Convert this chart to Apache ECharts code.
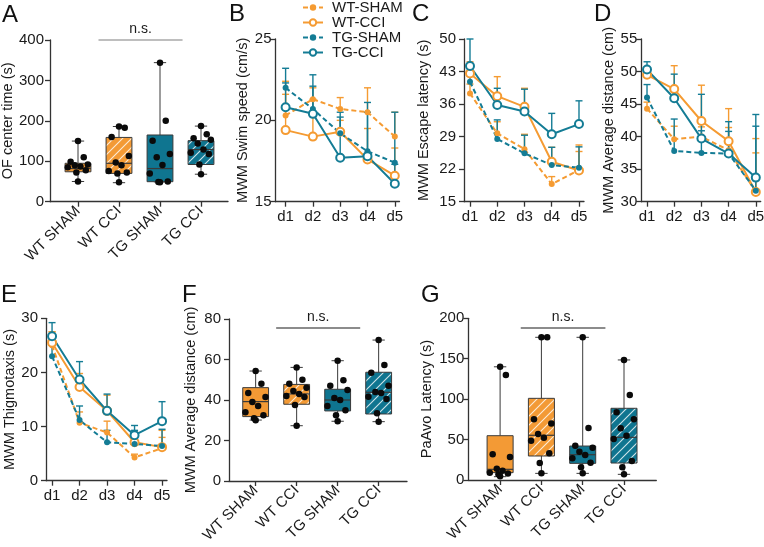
<!DOCTYPE html>
<html><head><meta charset="utf-8">
<script src="https://cdn.jsdelivr.net/npm/echarts@6/dist/echarts.min.js"></script>
<style>html,body{margin:0;padding:0;background:#fff}#c{width:764px;height:547px}</style>
</head><body><div id="c"></div><script>
// ---------- DATA ----------
const groups = ['WT-SHAM', 'WT-CCI', 'TG-SHAM', 'TG-CCI'];
const dayLabels = ['d1', 'd2', 'd3', 'd4', 'd5'];
const boxGroups = ['WT SHAM', 'WT CCI', 'TG SHAM', 'TG CCI'];

// Tick labels
const ticksOF = [0, 100, 200, 300, 400];
const ticksSwim = [15, 20, 25];
const ticksEscape = [15, 22, 29, 36, 43, 50];
const ticksDist = [30, 35, 40, 45, 50, 55];
const ticksThig = [0, 10, 20, 30];
const ticksAvgDist = [0, 20, 40, 60, 80];
const ticksPaAvo = [0, 50, 100, 150, 200];

// B: MWM swim speed (mean, upward error)
const swimWtShamMean = [20.3, 21.3, 20.7, 20.5, 19.0];
const swimWtShamErr  = [2.1, 0.7, 0.7, 1.5, 1.5];
const swimWtCciMean  = [19.4, 19.0, 19.3, 17.6, 16.6];
const swimWtCciErr   = [2.2, 2.3, 0.7, 1.9, 1.7];
const swimTgShamMean = [22.0, 20.7, 19.2, 18.1, 17.4];
const swimTgShamErr  = [1.2, 2.1, 1.0, 2.4, 3.1];
const swimTgCciMean  = [20.8, 20.4, 17.7, 17.8, 16.1];
const swimTgCciErr   = [1.5, 1.7, 2.8, 3.3, 1.2];

// C: MWM escape latency
const escWtShamMean = [38.3, 29.7, 26.3, 18.8, 21.8];
const escWtShamErr  = [2.0, 2.5, 3.2, 1.6, 4.0];
const escWtCciMean  = [42.6, 37.7, 35.4, 23.6, 21.7];
const escWtCciErr   = [2.5, 4.2, 4.0, 3.1, 5.5];
const escTgShamMean = [40.8, 28.5, 25.4, 22.9, 22.3];
const escTgShamErr  = [1.8, 4.1, 3.9, 3.8, 4.5];
const escTgCciMean  = [44.2, 35.8, 34.4, 29.5, 31.7];
const escTgCciErr   = [5.8, 3.6, 4.8, 4.5, 5.0];

// D: MWM average distance
const distWtShamMean = [44.3, 39.6, 40.0, 37.9, 31.5];
const distWtShamErr  = [1.0, 2.0, 1.5, 3.5, 6.0];
const distWtCciMean  = [49.5, 47.3, 42.4, 39.3, 31.5];
const distWtCciErr   = [1.0, 3.6, 5.5, 5.0, 8.2];
const distTgShamMean = [46.0, 37.8, 37.5, 37.4, 31.7];
const distTgShamErr  = [2.0, 4.9, 3.4, 4.9, 9.9];
const distTgCciMean  = [50.3, 45.9, 39.7, 37.4, 33.7];
const distTgCciErr   = [1.2, 3.7, 6.8, 3.4, 9.7];

// E: MWM thigmotaxis
const thigWtShamMean = [25.0, 10.7, 8.9, 4.3, 6.0];
const thigWtShamErr  = [2.5, 2.0, 2.1, 0.6, 2.0];
const thigWtCciMean  = [25.5, 17.3, 12.9, 7.1, 6.2];
const thigWtCciErr   = [2.0, 2.5, 2.9, 1.9, 3.1];
const thigTgShamMean = [23.0, 11.2, 7.1, 6.8, 6.4];
const thigTgShamErr  = [2.0, 2.6, 2.2, 2.5, 3.1];
const thigTgCciMean  = [26.7, 18.7, 12.9, 8.4, 11.0];
const thigTgCciErr   = [2.5, 3.3, 3.1, 1.8, 3.6];

// A: OF center time  box stats [min, Q1, median, Q3, max] + points
const ofWtShamBox = [50, 74, 82, 95, 150];
const ofWtCciBox  = [47, 70, 95, 159, 186];
const ofTgShamBox = [49, 49.5, 82, 165, 344];
const ofTgCciBox  = [68, 92, 129, 151, 187];
const ofWtShamPts = [150, 110, 99, 92, 90, 87, 85, 78, 72, 50];
const ofWtCciPts  = [186, 183, 160, 113, 97, 90, 76, 72, 70, 48];
const ofTgShamPts = [344, 200, 151, 118, 110, 91, 70, 50, 49, 48];
const ofTgCciPts  = [187, 167, 157, 153, 144, 129, 121, 118, 92, 68];
const ofSig = 400;

// F: MWM average distance (overall)
const adWtShamBox = [30.1, 31.8, 39.2, 46.1, 54.3];
const adWtCciBox  = [27.3, 37.9, 43.0, 47.7, 56.1];
const adTgShamBox = [29.5, 34.6, 40.0, 45.3, 59.4];
const adTgCciBox  = [29.3, 33.1, 43.8, 53.7, 69.6];
const adWtShamPts = [54.3, 48, 43.5, 41.5, 39, 37, 34, 32.5, 31, 30];
const adWtCciPts  = [56, 50, 48, 46, 44.5, 43, 42, 41.5, 37.5, 27.3];
const adTgShamPts = [59.4, 49.7, 47, 45, 41, 40, 37, 35, 32.5, 29.5];
const adTgCciPts  = [69.6, 57.3, 53.5, 47, 44, 43.5, 41.6, 40.5, 33.4, 29.3];
const adSig = 75.7;

// G: PaAvo latency
const paWtShamBox = [4.1, 9.1, 13.2, 54.8, 140];
const paWtCciBox  = [8.2, 29.7, 55.3, 101, 176.5];
const paTgShamBox = [8.2, 20.6, 31.3, 42, 176.5];
const paTgCciBox  = [7, 21, 52.8, 88.7, 148.5];
const paWtShamPts = [140, 130, 32, 28.5, 14, 11.5, 9, 8, 7, 4.5];
const paWtCciPts  = [176.5, 176.5, 75, 70, 57, 52.4, 48.7, 33, 21, 8.2];
const paTgShamPts = [176.5, 64.3, 42.5, 40, 35, 31, 26.8, 21.4, 15.7, 8.2];
const paTgCciPts  = [148.5, 105, 83.7, 75, 64, 54.8, 50.7, 23.5, 15.7, 7];
const paSig = 188;

// ---------- STYLE / LAYOUT ----------
const FONT = '"Liberation Sans", Arial, sans-serif';
const ORANGE = '#F59B32', TEAL = '#147C95';
const BOX_OR = '#F39A35', BOX_TE = '#0F7590';
const AX = '#333';
const TICK_FS = 15, NAME_FS = 14.5, CAT_FS = 15;
const groupColors = [ORANGE, ORANGE, TEAL, TEAL];
const jitter = [0, 0.14, -0.18, 0.24, -0.08, 0.06, -0.25, 0.19, -0.04, 0];

function hatch(bg) {
  const c = document.createElement('canvas'); c.width = c.height = 9;
  const g = c.getContext('2d'); g.fillStyle = bg; g.fillRect(0, 0, 9, 9);
  g.strokeStyle = 'rgba(255,255,255,0.8)'; g.lineWidth = 1.1;
  g.beginPath(); g.moveTo(0, 9); g.lineTo(9, 0); g.moveTo(-1, 1); g.lineTo(1, -1); g.moveTo(8, 10); g.lineTo(10, 8); g.stroke();
  return { image: c, repeat: 'repeat' };
}
const boxFills = [BOX_OR, hatch(BOX_OR), BOX_TE, hatch(BOX_TE)];

const grids = [], xAxes = [], yAxes = [], series = [];

function yAxisFor(k, ticks, name, gap, margin) {
  return {
    type: 'value', gridIndex: k, min: ticks[0], max: ticks[ticks.length - 1], interval: ticks[1] - ticks[0],
    name: name, nameLocation: 'middle', nameGap: gap,
    nameTextStyle: { fontSize: NAME_FS, color: '#1a1a1a', fontFamily: FONT },
    axisLine: { show: true, lineStyle: { color: AX, width: 1.3 } },
    axisTick: { show: true, length: 5, lineStyle: { color: AX, width: 1.3 } },
    axisLabel: { fontSize: TICK_FS, color: '#1a1a1a', fontFamily: FONT, margin: margin },
    splitLine: { show: false }
  };
}

function errRender(params, api) {
  const x = api.value(0);
  const a = api.coord([x, api.value(1)]);
  const b = api.coord([x, api.value(2)]);
  const st = { stroke: api.visual('color'), lineWidth: 1.4 };
  return { type: 'group', children: [
    { type: 'line', shape: { x1: a[0], y1: a[1], x2: b[0], y2: b[1] }, style: st },
    { type: 'line', shape: { x1: b[0] - 3.5, y1: b[1], x2: b[0] + 3.5, y2: b[1] }, style: st }
  ] };
}

function boxRender(params, api) {
  const x = api.value(0);
  const w = api.size([1, 0])[0];
  const hw = w * 0.315, cw = w * 0.15;
  const p = [1, 2, 3, 4, 5].map(i => api.coord([x, api.value(i)]));
  const cx = p[0][0];
  const ln = (x1, y1, x2, y2, lw) => ({ type: 'line', shape: { x1, y1, x2, y2 }, style: { stroke: '#3a3a3a', lineWidth: lw || 1 } });
  return { type: 'group', children: [
    ln(cx, p[0][1], cx, p[1][1]), ln(cx, p[3][1], cx, p[4][1]),
    ln(cx - cw, p[0][1], cx + cw, p[0][1]), ln(cx - cw, p[4][1], cx + cw, p[4][1]),
    { type: 'rect', shape: { x: cx - hw, y: p[3][1], width: 2 * hw, height: p[1][1] - p[3][1] },
      style: { fill: boxFills[params.dataIndex], stroke: '#3a3a3a', lineWidth: 1 } },
    ln(cx - hw, p[2][1], cx + hw, p[2][1], 1.2)
  ] };
}

const linePanels = [
  { grid: { left: 275.5, top: 39, width: 124, height: 162.7 }, xmin: 0.63, step: 27.3, ticks: ticksSwim,
    name: 'MWM Swim speed (cm/s)', gap: 25, margin: 4,
    means: [swimWtShamMean, swimWtCciMean, swimTgShamMean, swimTgCciMean], errs: [swimWtShamErr, swimWtCciErr, swimTgShamErr, swimTgCciErr] },
  { grid: { left: 464, top: 39, width: 120, height: 162.7 }, xmin: 0.78, step: 27.25, ticks: ticksEscape,
    name: 'MWM Escape latency (s)', gap: 33, margin: 8,
    means: [escWtShamMean, escWtCciMean, escTgShamMean, escTgCciMean], errs: [escWtShamErr, escWtCciErr, escTgShamErr, escTgCciErr] },
  { grid: { left: 641.3, top: 39, width: 119.4, height: 162.7 }, xmin: 0.79, step: 27.2, ticks: ticksDist,
    name: 'MWM Average distance (cm)', gap: 22, margin: 4,
    means: [distWtShamMean, distWtCciMean, distTgShamMean, distTgCciMean], errs: [distWtShamErr, distWtCciErr, distTgShamErr, distTgCciErr] },
  { grid: { left: 46, top: 318.3, width: 121, height: 162.4 }, xmin: 0.78, step: 27.5, ticks: ticksThig,
    name: 'MWM Thigmotaxis (s)', gap: 24, margin: 8,
    means: [thigWtShamMean, thigWtCciMean, thigTgShamMean, thigTgCciMean], errs: [thigWtShamErr, thigWtCciErr, thigTgShamErr, thigTgCciErr] }
];

const boxPanels = [
  { grid: { left: 50, top: 40, width: 178, height: 161.7 }, xmin: 0.317, step: 41, ticks: ticksOF,
    name: 'OF center time (s)', gap: 31, margin: 6, sig: ofSig, sigColor: '#a8a8a8',
    stats: [ofWtShamBox, ofWtCciBox, ofTgShamBox, ofTgCciBox], pts: [ofWtShamPts, ofWtCciPts, ofTgShamPts, ofTgCciPts] },
  { grid: { left: 229, top: 319, width: 178, height: 162 }, xmin: 0.35, step: 41, ticks: ticksAvgDist,
    name: 'MWM Average distance (cm)', gap: 31, margin: 8, sig: adSig, sigColor: '#666',
    stats: [adWtShamBox, adWtCciBox, adTgShamBox, adTgCciBox], pts: [adWtShamPts, adWtCciPts, adTgShamPts, adTgCciPts] },
  { grid: { left: 468.3, top: 318.3, width: 188, height: 161.7 }, xmin: 0.23, step: 41.3, ticks: ticksPaAvo,
    name: 'PaAvo Latency (s)', gap: 34, margin: 4, sig: paSig, sigColor: '#666',
    stats: [paWtShamBox, paWtCciBox, paTgShamBox, paTgCciBox], pts: [paWtShamPts, paWtCciPts, paTgShamPts, paTgCciPts] }
];

let k = 0;
linePanels.forEach(P => {
  grids.push(Object.assign({ containLabel: false, outerBoundsMode: 'none' }, P.grid));
  xAxes.push({
    type: 'value', gridIndex: k, min: P.xmin, max: P.xmin + P.grid.width / P.step,
    axisLine: { show: true, lineStyle: { color: AX, width: 1.3 } },
    axisTick: { show: true, length: 5, customValues: [1, 2, 3, 4, 5], lineStyle: { color: AX, width: 1.3 } },
    axisLabel: { customValues: [1, 2, 3, 4, 5], formatter: v => dayLabels[Math.round(v) - 1], fontSize: TICK_FS, color: '#1a1a1a', fontFamily: FONT, margin: 8 },
    splitLine: { show: false }
  });
  yAxes.push(yAxisFor(k, P.ticks, P.name, P.gap, P.margin));
  groups.forEach((g, gi) => {
    const sham = gi % 2 === 0;
    const col = groupColors[gi];
    series.push({
      type: 'custom', name: g + ' error', xAxisIndex: k, yAxisIndex: k, silent: true, z: 2,
      itemStyle: { color: col }, encode: { x: 0, y: [1, 2] },
      data: P.means[gi].map((m, i) => [i + 1, m, m + P.errs[gi][i]]), renderItem: errRender
    });
    series.push({
      type: 'line', name: g, xAxisIndex: k, yAxisIndex: k, z: 3,
      data: P.means[gi].map((m, i) => [i + 1, m]),
      symbol: sham ? 'circle' : 'emptyCircle', symbolSize: sham ? 6 : 8, showAllSymbol: true,
      lineStyle: { color: col, width: 2, type: sham ? [5, 3] : 'solid' },
      itemStyle: { color: col, borderColor: col, borderWidth: sham ? 0 : 1.5 }
    });
  });
  k++;
});

boxPanels.forEach(P => {
  grids.push(Object.assign({ containLabel: false, outerBoundsMode: 'none' }, P.grid));
  xAxes.push({
    type: 'value', gridIndex: k, min: P.xmin, max: P.xmin + P.grid.width / P.step,
    axisLine: { show: true, lineStyle: { color: AX, width: 1.3 } },
    axisTick: { show: true, length: 5, customValues: [1, 2, 3, 4], lineStyle: { color: AX, width: 1.3 } },
    axisLabel: { customValues: [1, 2, 3, 4], formatter: v => boxGroups[Math.round(v) - 1], rotate: 45, fontSize: CAT_FS, color: '#1a1a1a', fontFamily: FONT, margin: 7 },
    splitLine: { show: false }
  });
  yAxes.push(yAxisFor(k, P.ticks, P.name, P.gap, P.margin));
  series.push({
    type: 'custom', name: 'box' + k, xAxisIndex: k, yAxisIndex: k, z: 2, silent: true,
    encode: { x: 0, y: [1, 2, 3, 4, 5] },
    data: P.stats.map((s, i) => [i + 1].concat(s)), renderItem: boxRender
  });
  const pts = [];
  P.pts.forEach((arr, i) => arr.forEach((v, j) => pts.push([i + 1 + jitter[j % jitter.length], v])));
  series.push({
    type: 'scatter', name: 'pts' + k, xAxisIndex: k, yAxisIndex: k, z: 5, silent: true,
    symbol: 'circle', symbolSize: 6.5, itemStyle: { color: '#0a0a0a', opacity: 1 }, data: pts,
    markLine: {
      silent: true, symbol: 'none', animation: false,
      lineStyle: { color: P.sigColor, type: 'solid', width: 1.5 },
      label: { show: true, formatter: 'n.s.', position: 'insideMiddleTop', distance: 4, fontSize: 14, color: '#1a1a1a', fontFamily: FONT },
      data: [[{ coord: [1.5, P.sig] }, { coord: [3.55, P.sig] }]]
    }
  });
  k++;
});

const letters = [['A', 2, 15], ['B', 229, 14], ['C', 412, 14], ['D', 594, 14], ['E', 1, 295], ['F', 182, 295], ['G', 421, 295]];
const graphic = letters.map(l => ({
  type: 'text', x: l[1], y: l[2], silent: true,
  style: { text: l[0], font: '24px ' + FONT, fill: '#111', verticalAlign: 'middle', textVerticalAlign: 'middle' }
}));

const chart = echarts.init(document.getElementById('c'), null, { renderer: 'canvas' });
chart.setOption({
  animation: false,
  backgroundColor: '#fff',
  textStyle: { fontFamily: FONT },
  grid: grids, xAxis: xAxes, yAxis: yAxes, series: series, graphic: graphic,
  legend: {
    data: groups, orient: 'vertical', left: 302, top: 0, itemGap: 0, itemWidth: 20, itemHeight: 8, padding: 0,
    textStyle: { fontSize: 15, color: '#1a1a1a', fontFamily: FONT, padding: [0, 0, 0, 4] }
  }
});
</script></body></html>
